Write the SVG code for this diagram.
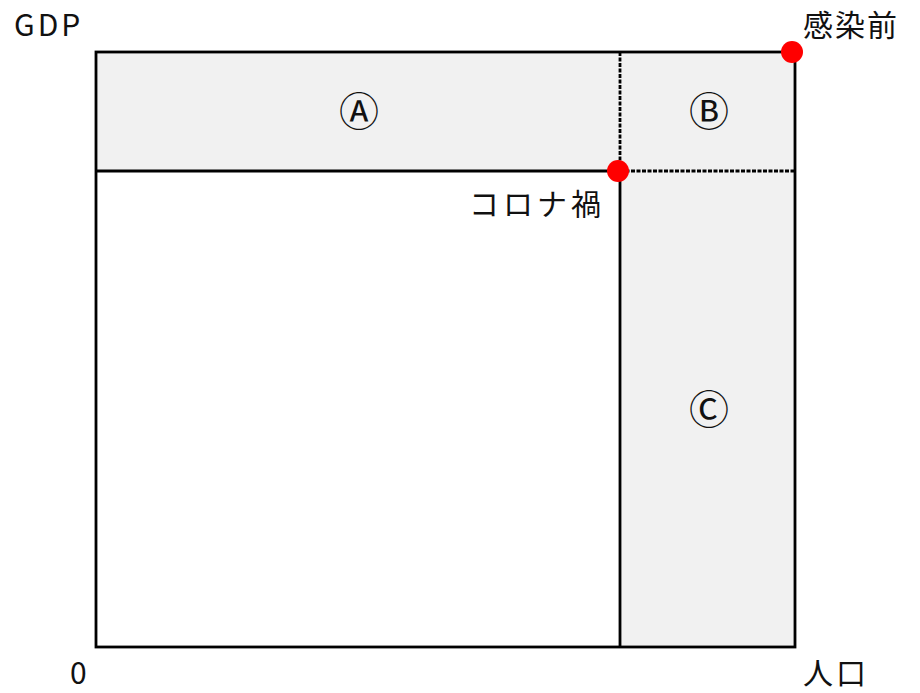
<svg xmlns="http://www.w3.org/2000/svg" width="920" height="693" viewBox="0 0 920 693">
<style>
.t{font-family:"Noto Sans CJK JP","Noto Sans",sans-serif;font-size:30px;fill:#111}
.c{font-family:"Noto Sans CJK JP","Noto Sans",sans-serif;font-size:40px;fill:#111;text-anchor:middle;dominant-baseline:central}
.area{fill:#f1f1f1;stroke:none}
.solid{stroke:#000;stroke-width:2.8;fill:none}
.dash{stroke:#000;stroke-width:2.8;stroke-dasharray:4 1.5;fill:none}
.dot{fill:#ff0000}
</style>
<rect width="920" height="693" fill="#fff"/>
<g id="regions">
<rect id="regionA" class="area" x="96" y="52" width="524" height="119"/>
<rect id="regionB" class="area" x="620" y="52" width="175" height="119"/>
<rect id="regionC" class="area" x="620" y="171" width="175" height="476"/>
</g>
<g id="connectors">
<rect class="solid" x="96" y="52" width="699" height="595"/>
<line class="solid" x1="96" y1="171" x2="620" y2="171"/>
<line class="solid" x1="620" y1="171" x2="620" y2="647"/>
<line class="dash" x1="620" y1="52" x2="620" y2="171"/>
<line class="dash" x1="620" y1="171" x2="795" y2="171"/>
</g>
<g id="labelA"><text class="c" x="359" y="109">Ⓐ</text></g>
<g id="labelB"><text class="c" x="709" y="109">Ⓑ</text></g>
<g id="labelC"><text class="c" x="709" y="407">Ⓒ</text></g>
<g id="pre"><circle class="dot" cx="792" cy="52" r="11"/><text class="t" x="803" y="36" letter-spacing="2">感染前</text></g>
<g id="corona"><circle class="dot" cx="618" cy="171" r="11"/><text class="t" x="605" y="215" text-anchor="end" letter-spacing="4">コロナ禍</text></g>
<g id="axes">
<text class="t" x="14" y="36" letter-spacing="3">GDP</text>
<text class="t" x="70" y="684">0</text>
<text class="t" x="803" y="684" letter-spacing="3">人口</text>
</g>
</svg>
